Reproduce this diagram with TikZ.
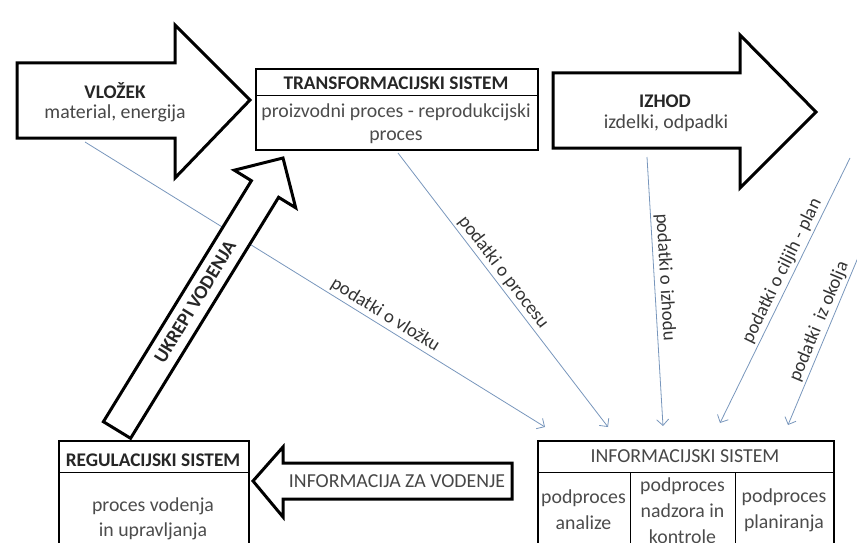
\documentclass[tikz,border=0pt]{standalone}
\usepackage{fontspec}
\setmainfont{Carlito}
\usetikzlibrary{arrows.meta}
\definecolor{infoblue}{RGB}{120,150,188}
\begin{document}
\begin{tikzpicture}[x=1pt,y=-1pt,
  bigarrow/.style={draw=black, line width=3pt, fill=white, line join=miter},
  sysbox/.style={draw=black, line width=1.8pt, fill=white, inner sep=0pt},
  divline/.style={draw=black, line width=1pt},
  titletext/.style={font=\fontsize{19.3}{22}\selectfont\bfseries, text=black!85, inner sep=0pt},
  captext/.style={font=\fontsize{19.8}{22}\selectfont, text=black!72, inner sep=0pt},
  bodytext/.style={font=\fontsize{19.8}{23}\selectfont, text=black!70, align=center, inner sep=0pt},
  dataflow/.style={draw=infoblue, line width=0.8pt, -{Straight Barb[length=6pt,width=12pt,line width=0.8pt]}},
  flowlabel/.style={font=\fontsize{18.8}{20}\selectfont, text=black!80, sloped, above, inner sep=2.5pt}
]
\useasboundingbox (0,0) rectangle (857,543);
\clip (0,0) rectangle (857,543);

% ---- boxes ----
\node[sysbox, minimum width=282, minimum height=81, anchor=north west] (trans) at (255,68) {};
\node[sysbox, minimum width=296, minimum height=130, anchor=north west] (info) at (537,440) {};
\node[sysbox, minimum width=190, minimum height=130, anchor=north west] (reg) at (58,440) {};

% ---- data flow coordinates ----
\coordinate (v0) at (85,142);   \coordinate (v1) at (545,427);
\coordinate (p0) at (398,153);  \coordinate (p1) at (608,427);
\coordinate (i0) at (647,157);  \coordinate (i1) at (663,426);
\coordinate (c0) at (850,158);  \coordinate (c1) at (720,423);
\coordinate (o0) at (862,248);  \coordinate (o1) at (788,425);

\draw[dataflow] (v0) -- node[flowlabel, pos=0.64] {podatki o vložku} (v1);
\draw[dataflow] (p0) -- node[flowlabel, pos=0.46] {podatki o procesu} (p1);
\draw[dataflow] (i0) -- node[flowlabel, pos=0.45] {podatki o izhodu} (i1);
\draw[dataflow] (c0) -- node[flowlabel, pos=0.445] {podatki o ciljih - plan} (c1);
\draw[dataflow] (o0) -- node[flowlabel, pos=0.44] {podatki\ \ iz okolja} (o1);

% ---- big arrows ----
\draw[bigarrow] (17,63) -- (175,63) -- (175,25) -- (250,100) -- (175,178) -- (175,138) -- (17,138) -- cycle;
\draw[bigarrow] (553,73) -- (740,73) -- (740,35) -- (816,112) -- (740,188) -- (740,148) -- (553,148) -- cycle;
\draw[bigarrow] (512,463) -- (283,463) -- (283,447) -- (253,481) -- (283,517) -- (283,499) -- (512,499) -- cycle;
\draw[bigarrow] (103.4,421.7) -- (251.4,180.7) -- (234.3,170.2) -- (283,158) -- (295.7,207.8) -- (278.6,197.3) -- (130.6,438.3) -- cycle;

% ---- dividers ----
\draw[divline] (255,95) -- (537,95);
\draw[divline] (537,472) -- (833,472);
\draw[divline] (630,472) -- (630,560);
\draw[divline] (735,472) -- (735,560);
\draw[divline] (58,472) -- (248,472);

% ---- texts ----
\node[titletext] (vlt) at (115,91) {VLOŽEK};
\node[captext] (vlb) at (115,113) {material, energija};
\node[titletext] (trt) at (396,83) {TRANSFORMACIJSKI SISTEM};
\node[bodytext] (trb) at (396,124) {proizvodni proces - reprodukcijski\\proces};
\node[titletext] (izt) at (665,101) {IZHOD};
\node[captext] (izb) at (666,123) {izdelki, odpadki};
\node[captext] (inft) at (685,456) {INFORMACIJSKI SISTEM};
\node[bodytext, font=\fontsize{19.8}{26}\selectfont] (inf1) at (583.5,510) {podproces\\analize};
\node[bodytext, font=\fontsize{19.8}{26}\selectfont] (inf2) at (682.5,511) {podproces\\nadzora in\\kontrole};
\node[bodytext, font=\fontsize{19.8}{26}\selectfont] (inf3) at (784,510) {podproces\\planiranja};
\node[titletext] (regt) at (153,460) {REGULACIJSKI SISTEM};
\node[bodytext, font=\fontsize{19.8}{25}\selectfont] (regb) at (153,519) {proces vodenja\\in upravljanja};
\node[captext] (ivt) at (397,481) {INFORMACIJA ZA VODENJE};
\node[titletext, rotate=58.6] (ukt) at (195,302) {UKREPI VODENJA};
\end{tikzpicture}
\end{document}
